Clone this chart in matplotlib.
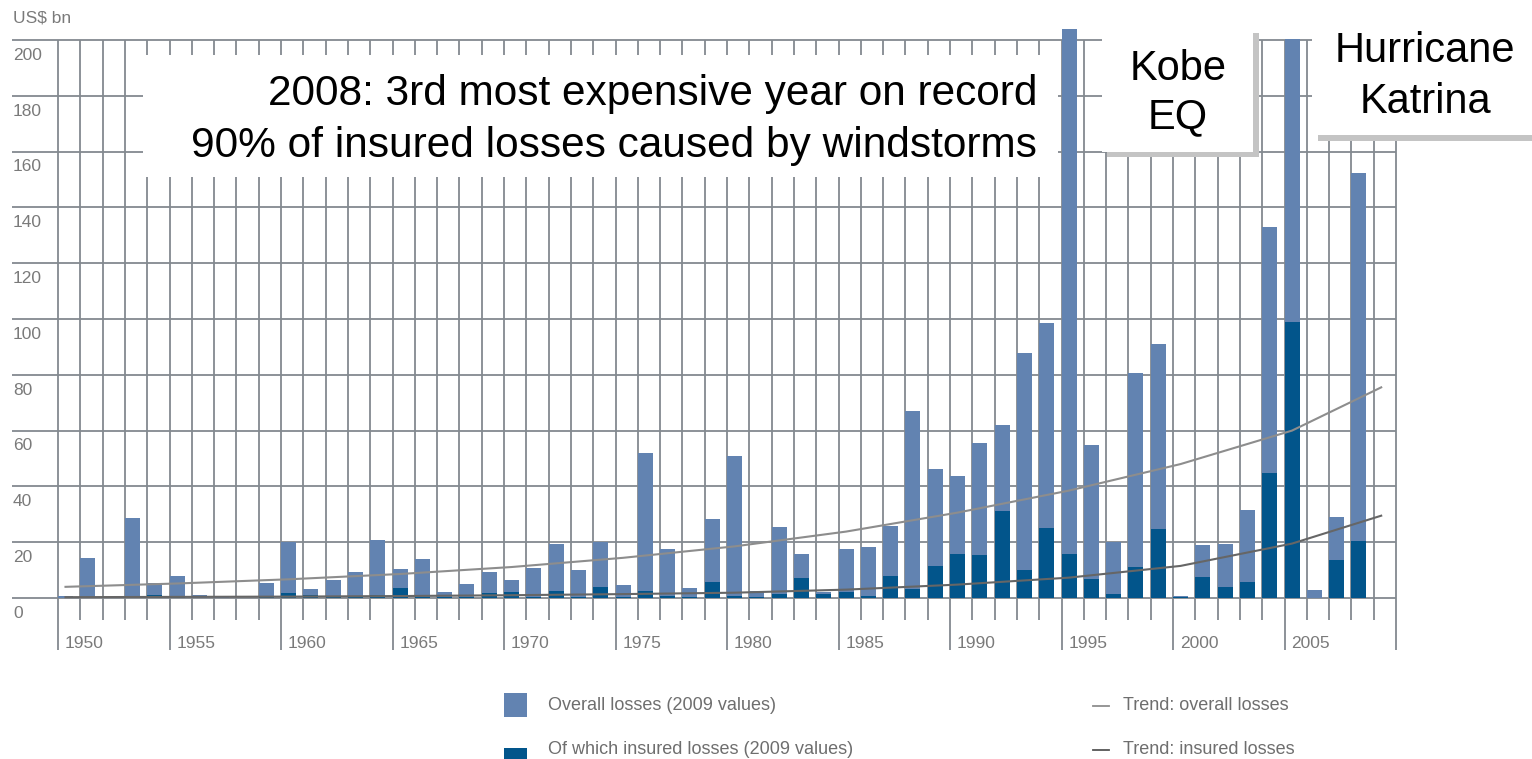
import matplotlib.pyplot as plt
from matplotlib.patches import Rectangle
import numpy as np

# Natural catastrophes 1950-2008, US$ bn in 2009 values
years = list(range(1950, 2009))
overall_losses = [
    0.8, 14.2, 0.0, 28.8, 5.3, 8.0, 1.1, 0.5, 0.0, 5.5,
    20.2, 3.1, 6.5, 9.4, 20.8, 10.4, 13.9, 2.0, 5.0, 9.4,
    6.5, 10.9, 19.4, 9.9, 20.2, 4.5, 51.9, 17.5, 3.5, 28.2,
    50.9, 2.4, 25.6, 15.8, 2.3, 17.4, 18.3, 25.8, 67.0, 46.2,
    43.8, 55.7, 62.0, 87.7, 98.7, 204.0, 54.7, 20.0, 80.8, 91.2,
    0.8, 18.9, 19.5, 31.6, 133.0, 200.5, 2.9, 29.1, 152.3,
]
insured_losses = [
    0.1, 0.3, 0.0, 0.3, 1.2, 0.2, 0.1, 0.1, 0.0, 0.3,
    1.7, 1.1, 0.3, 0.3, 1.1, 3.7, 0.2, 0.3, 0.3, 1.7,
    2.1, 0.3, 2.5, 0.5, 4.1, 0.3, 2.5, 0.8, 0.5, 5.6,
    0.7, 0.4, 1.3, 7.0, 1.4, 2.3, 0.7, 7.9, 3.1, 11.5,
    15.8, 15.4, 31.2, 10.0, 25.2, 15.8, 6.7, 1.5, 11.2, 24.6,
    0.2, 7.6, 4.1, 5.9, 44.9, 99.0, 0.0, 13.5, 20.3,
]

trend_years = [1950, 1955, 1960, 1965, 1970, 1975, 1980, 1985, 1990, 1995, 2000, 2005, 2009]
trend_overall = [4.0, 5.2, 6.7, 8.6, 11.1, 14.4, 18.5, 23.8, 30.6, 38.5, 48.0, 60.0, 75.5]
trend_insured = [0.3, 0.4, 0.5, 0.7, 1.0, 1.4, 1.9, 3.0, 4.8, 7.3, 11.5, 19.5, 29.5]

y_ticks = list(range(0, 201, 20))
year_labels = [1950, 1955, 1960, 1965, 1970, 1975, 1980, 1985, 1990, 1995, 2000, 2005]

LIGHT = "#6283b1"
DARK = "#02558b"
GRID = "#838990"
LABEL = "#7a7a7a"
FONT = "Liberation Sans"

# page layout in pixels
W, H = 1532, 759
X0, Y0 = 58, 598            # pixel position of 1950 / value 0
PX_YEAR, PX_UNIT = 22.3, 2.79
BAR_W = 15 / PX_YEAR


def px(x, y):
    return 1950 + (x - X0) / PX_YEAR, (Y0 - y) / PX_UNIT


fig = plt.figure(figsize=(W / 100, H / 100), dpi=100)
ax = fig.add_axes([0, 0, 1, 1])
ax.set_xlim(px(0, 0)[0], px(W, 0)[0])
ax.set_ylim(px(0, H)[1], px(0, 0)[1])
ax.axis("off")

# grid
grid_left = px(12, 0)[0]
ax.hlines(y_ticks, grid_left, 2010, color=GRID, lw=1.3, zorder=1)
for yr in range(1950, 2011):
    bottom = px(0, 650)[1] if yr % 5 == 0 else px(0, 620)[1]
    ax.vlines(yr, bottom, 200, color=GRID, lw=1.3, zorder=1)

for t in y_ticks:
    ax.text(px(13, 0)[0], t - 5.5, str(t), ha="left", va="center",
            fontsize=12.5, color=LABEL, family=FONT)
for yr in year_labels:
    ax.text(yr + 7 / PX_YEAR, px(0, 643)[1], str(yr), ha="left", va="center",
            fontsize=12.5, color=LABEL, family=FONT)
ax.text(*px(13, 18), "US$ bn", ha="left", va="center", fontsize=12.5,
        color=LABEL, family=FONT)

# bars
ax.bar(years, overall_losses, width=BAR_W, align="edge", color=LIGHT, zorder=2)
ax.bar(years, insured_losses, width=BAR_W, align="edge", color=DARK, zorder=3)

# trend lines through bar centres
tx = np.array(trend_years) + BAR_W / 2
ax.plot(tx, trend_overall, color="#8d8d8d", lw=1.5, zorder=4)
ax.plot(tx, trend_insured, color="#666666", lw=1.5, zorder=4)


def box(x1, y1, x2, y2, color, z):
    (a, b), (c, d) = px(x1, y2), px(x2, y1)
    ax.add_patch(Rectangle((a, b), c - a, d - b, facecolor=color,
                           edgecolor="none", zorder=z, clip_on=False))


def label(x, y, s, ha="center", size=30):
    ax.text(*px(x, y), s, ha=ha, va="baseline", fontsize=size,
            family=FONT, color="black", zorder=11)


# headline box
box(143, 55, 1058, 177, "white", 10)
label(1037, 105, "2008: 3rd most expensive year on record", ha="right", size=30.5)
label(1037, 157, "90% of insured losses caused by windstorms", ha="right", size=30.5)

# Kobe box with shadow
box(1107, 33, 1259, 157, "#c4c4c4", 9)
box(1102, 27, 1253, 152, "white", 10)
label(1178, 80, "Kobe")
label(1178, 128, "EQ")

# Katrina box with shadow
box(1318, 19, 1540, 141, "#c4c4c4", 9)
box(1312, 13, 1540, 135, "white", 10)
label(1425, 62, "Hurricane")
label(1425, 113, "Katrina")

# legend
box(504, 693, 527, 717, LIGHT, 5)
box(504, 748, 527, 772, DARK, 5)
ax.text(*px(548, 705), "Overall losses (2009 values)", ha="left", va="center",
        fontsize=13, color="#6e6e6e", family=FONT)
ax.text(*px(548, 750), "Of which insured losses (2009 values)", ha="left", va="center",
        fontsize=13, color="#6e6e6e", family=FONT)
xa, _ = px(1093, 0)
xb, _ = px(1109, 0)
ax.plot([xa, xb], [px(0, 706)[1]] * 2, color="#8d8d8d", lw=1.3, clip_on=False)
ax.plot([xa, xb], [px(0, 750)[1]] * 2, color="#555555", lw=1.3, clip_on=False)
ax.text(*px(1123, 705), "Trend: overall losses", ha="left", va="center",
        fontsize=13, color="#6e6e6e", family=FONT)
ax.text(*px(1123, 750), "Trend: insured losses", ha="left", va="center",
        fontsize=13, color="#6e6e6e", family=FONT)

fig.savefig("out.png", dpi=100)
